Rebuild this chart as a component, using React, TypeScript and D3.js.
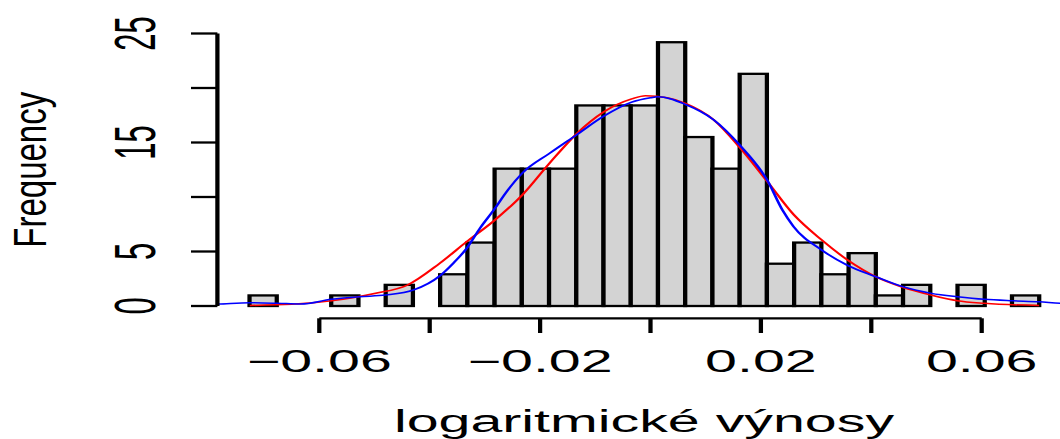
import React from 'react'
import * as d3 from 'd3'

// histogram bins (equal width)
const binStart = -0.07264
const binWidth = 0.004933
const counts = [0.97, 0, 0, 0.97, 0, 1.94, 0, 2.91, 5.82, 12.6, 12.6, 12.6, 18.4, 18.4, 18.4, 24.2, 15.5, 12.6, 21.3, 3.88, 5.82, 2.91, 4.85, 0.97, 1.94, 0, 1.94, 0, 0.97]

// red curve (normal fit)
const redX = [-0.0726, -0.065, -0.0578, -0.05, -0.044, -0.0382, -0.0333, -0.0284, -0.0232, -0.0183, -0.0134, -0.0085, -0.0034, -0.0009, 0.003, 0.0063, 0.0114, 0.0161, 0.0212, 0.0259, 0.031, 0.0357, 0.0408, 0.0457, 0.0509, 0.0556, 0.0605, 0.0704]
const redY = [0.05, 0.15, 0.48, 1.15, 1.93, 3.91, 5.9, 7.8, 10.2, 13.1, 15.8, 17.8, 19.0, 19.3, 19.1, 18.6, 17.1, 14.6, 11.4, 8.4, 6.06, 4.22, 2.69, 1.72, 1.0, 0.49, 0.25, 0.05]

// blue curve (kernel density)
const blueX = [-0.081, -0.0783, -0.0726, -0.0676, -0.0634, -0.0578, -0.0527, -0.048, -0.0429, -0.0382, -0.0357, -0.0333, -0.0308, -0.0284, -0.0259, -0.0232, -0.0183, -0.0134, -0.0085, -0.0034, 0.0, 0.0013, 0.0063, 0.0114, 0.0161, 0.0212, 0.0239, 0.0259, 0.031, 0.0357, 0.0408, 0.0457, 0.0509, 0.0556, 0.0605, 0.0656, 0.0704, 0.0743, 0.078]
const blueY = [0.14, 0.18, 0.3, 0.25, 0.18, 0.61, 0.85, 1.0, 1.47, 2.75, 3.94, 5.29, 7.2, 8.8, 10.6, 12.2, 14.0, 15.7, 17.4, 18.7, 19.1, 19.2, 18.5, 17.1, 14.8, 11.5, 8.8, 7.3, 5.14, 3.73, 2.69, 1.77, 1.16, 0.85, 0.61, 0.48, 0.39, 0.24, 0.2]

const xTicks = [-0.06, -0.04, -0.02, 0, 0.02, 0.04, 0.06]
const xTickLabels = ['\u22120.06', '', '\u22120.02', '', '0.02', '', '0.06']
const yTicks = [0, 5, 10, 15, 20, 25]
const yTickLabels = ['0', '5', '', '15', '', '25']

const W = 1060
const H = 439
const SX = 1.85 // the picture is stretched horizontally
const font = '"Liberation Sans", Arial, sans-serif'

export default function App() {
  // x in unstretched units, the group is scaled by SX
  const x = d3.scaleLinear().domain([-0.06, 0.06]).range([319.3 / SX, 981.7 / SX])
  const y = d3.scaleLinear().domain([0, 25]).range([306, 33.5])

  const plotL = 217.4 / SX
  const plotR = 1070.6 / SX
  const plotT = y(26)
  const plotB = y(-1)

  const line = d3.line<[number, number]>()
    .x(d => x(d[0]))
    .y(d => y(d[1]))
    .curve(d3.curveMonotoneX)

  const redPts = redX.map((v, i) => [v, redY[i]] as [number, number])
  const bluePts = blueX.map((v, i) => [v, blueY[i]] as [number, number])

  const axisY = 318.3
  const lw = 2.3

  return (
    <svg width={W} height={H} style={{ position: 'absolute', left: 0, top: 0, background: '#fff' }}>
      <defs>
        <clipPath id="plotclip">
          <rect x={plotL} y={plotT} width={plotR - plotL} height={plotB - plotT} />
        </clipPath>
      </defs>
      <g transform={`scale(${SX},1)`} fontFamily={font}>
        {counts.map((c, i) => {
          const lo = binStart + i * binWidth
          const hi = lo + binWidth
          if (c <= 0) return null
          return (
            <rect key={i} x={x(lo)} y={y(c)} width={x(hi) - x(lo)} height={y(0) - y(c)}
              fill="#d3d3d3" stroke="#000" strokeWidth={lw} />
          )
        })}
        <g clipPath="url(#plotclip)">
          <path d={line(redPts) || ''} fill="none" stroke="#ff0000" strokeWidth={1.5} />
          <path d={line(bluePts) || ''} fill="none" stroke="#0000ff" strokeWidth={1.5} />
        </g>

        {/* y axis */}
        <line x1={plotL} x2={plotL} y1={y(0)} y2={y(25)} stroke="#000" strokeWidth={lw} />
        {yTicks.map((t, i) => (
          <g key={t}>
            <line x1={plotL} x2={191 / SX} y1={y(t)} y2={y(t)} stroke="#000" strokeWidth={lw} />
            {yTickLabels[i] && (
              <text transform={`translate(${155 / SX},${y(t)}) rotate(-90)`} textAnchor="middle" fontSize={31}>
                {yTickLabels[i]}
              </text>
            )}
          </g>
        ))}

        {/* x axis */}
        <line x1={x(-0.06)} x2={x(0.06)} y1={axisY} y2={axisY} stroke="#000" strokeWidth={lw} />
        {xTicks.map((t, i) => (
          <g key={t}>
            <line x1={x(t)} x2={x(t)} y1={axisY} y2={333} stroke="#000" strokeWidth={lw} />
            {xTickLabels[i] && (
              <text x={x(t)} y={371.7} textAnchor="middle" fontSize={31}>{xTickLabels[i]}</text>
            )}
          </g>
        ))}
        <text x={(plotL + plotR) / 2} y={431.7} textAnchor="middle" fontSize={31}>
          logaritmické výnosy
        </text>
      </g>
      <text transform={`translate(45.5,${(plotT + plotB) / 2}) scale(1.41,1) rotate(-90)`}
        textAnchor="middle" fontSize={33} fontFamily={font}>
        Frequency
      </text>
    </svg>
  )
}
